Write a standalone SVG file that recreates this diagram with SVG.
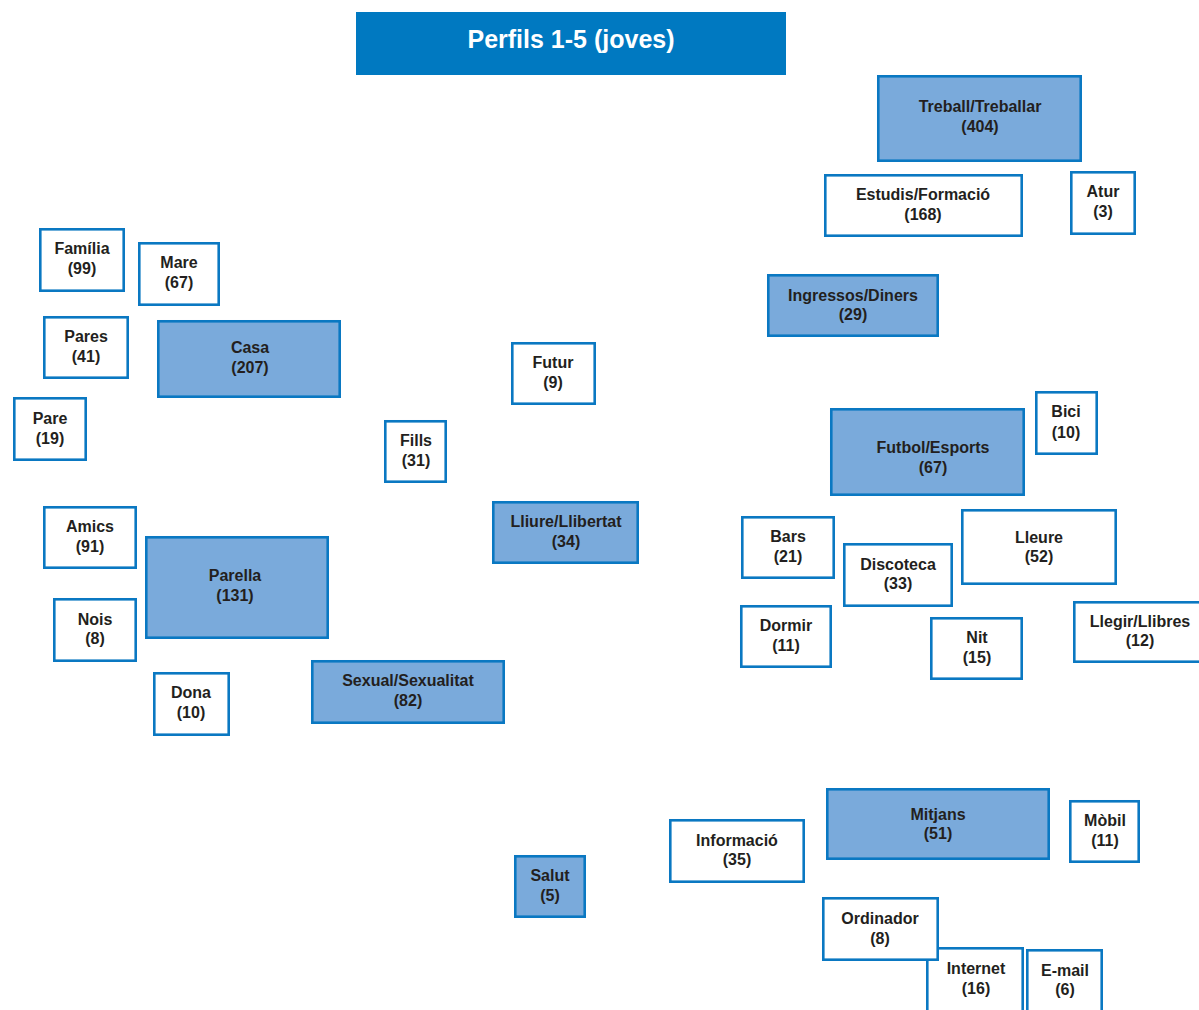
<svg xmlns="http://www.w3.org/2000/svg" width="1199" height="1010" viewBox="0 0 1199 1010">
<style>
.b{fill:#ffffff;stroke:#0a78c2;stroke-width:2.6}
.f{fill:#7aaadb;stroke:#0a78c2;stroke-width:2.6}
text{font-family:"Liberation Sans",Arial,sans-serif;font-weight:bold;font-size:16px;fill:#231f20;text-anchor:middle}
.t{font-size:25px;fill:#ffffff}
</style>
<rect width="1199" height="1010" fill="#ffffff"/>
<g id="title"><rect x="356" y="12" width="430" height="63" fill="#0079c1"/><text class="t" x="571" y="48">Perfils 1-5 (joves)</text></g>
<g id="nodes">
<g id="treball"><rect class="f" x="878.3" y="76.3" width="202.4" height="84.4"/><text x="980" y="112">Treball/Treballar</text><text x="980" y="132">(404)</text></g>
<g id="estudis"><rect class="b" x="825.3" y="175.3" width="196.4" height="60.4"/><text x="923" y="200">Estudis/Formació</text><text x="923" y="220">(168)</text></g>
<g id="atur"><rect class="b" x="1071.3" y="172.3" width="63.4" height="61.4"/><text x="1103" y="197">Atur</text><text x="1103" y="217">(3)</text></g>
<g id="familia"><rect class="b" x="40.3" y="229.3" width="83.4" height="61.4"/><text x="82" y="254">Família</text><text x="82" y="274">(99)</text></g>
<g id="mare"><rect class="b" x="139.3" y="243.3" width="79.4" height="61.4"/><text x="179" y="268">Mare</text><text x="179" y="288">(67)</text></g>
<g id="pares"><rect class="b" x="44.3" y="317.3" width="83.4" height="60.4"/><text x="86" y="342">Pares</text><text x="86" y="362">(41)</text></g>
<g id="casa"><rect class="f" x="158.3" y="321.3" width="181.4" height="75.4"/><text x="250" y="353">Casa</text><text x="250" y="373">(207)</text></g>
<g id="pare"><rect class="b" x="14.3" y="398.3" width="71.4" height="61.4"/><text x="50" y="424">Pare</text><text x="50" y="444">(19)</text></g>
<g id="futur"><rect class="b" x="512.3" y="343.3" width="82.4" height="60.4"/><text x="553" y="368">Futur</text><text x="553" y="388">(9)</text></g>
<g id="fills"><rect class="b" x="385.3" y="421.3" width="60.4" height="60.4"/><text x="416" y="446">Fills</text><text x="416" y="466">(31)</text></g>
<g id="ingressos"><rect class="f" x="768.3" y="275.3" width="169.4" height="60.4"/><text x="853" y="301">Ingressos/Diners</text><text x="853" y="320">(29)</text></g>
<g id="bici"><rect class="b" x="1036.3" y="392.3" width="60.4" height="61.4"/><text x="1066" y="417">Bici</text><text x="1066" y="438">(10)</text></g>
<g id="futbol"><rect class="f" x="831.3" y="409.3" width="192.4" height="85.4"/><text x="933" y="453">Futbol/Esports</text><text x="933" y="473">(67)</text></g>
<g id="lliure"><rect class="f" x="493.3" y="502.3" width="144.4" height="60.4"/><text x="566" y="527">Lliure/Llibertat</text><text x="566" y="547">(34)</text></g>
<g id="amics"><rect class="b" x="44.3" y="507.3" width="91.4" height="60.4"/><text x="90" y="532">Amics</text><text x="90" y="552">(91)</text></g>
<g id="parella"><rect class="f" x="146.3" y="537.3" width="181.4" height="100.4"/><text x="235" y="581">Parella</text><text x="235" y="601">(131)</text></g>
<g id="nois"><rect class="b" x="54.3" y="599.3" width="81.4" height="61.4"/><text x="95" y="625">Nois</text><text x="95" y="644">(8)</text></g>
<g id="dona"><rect class="b" x="154.3" y="673.3" width="74.4" height="61.4"/><text x="191" y="698">Dona</text><text x="191" y="718">(10)</text></g>
<g id="sexual"><rect class="f" x="312.3" y="661.3" width="191.4" height="61.4"/><text x="408" y="686">Sexual/Sexualitat</text><text x="408" y="706">(82)</text></g>
<g id="bars"><rect class="b" x="742.3" y="517.3" width="91.4" height="60.4"/><text x="788" y="542">Bars</text><text x="788" y="562">(21)</text></g>
<g id="discoteca"><rect class="b" x="844.3" y="544.3" width="107.4" height="61.4"/><text x="898" y="570">Discoteca</text><text x="898" y="589">(33)</text></g>
<g id="lleure"><rect class="b" x="962.3" y="510.3" width="153.4" height="73.4"/><text x="1039" y="543">Lleure</text><text x="1039" y="562">(52)</text></g>
<g id="dormir"><rect class="b" x="741.3" y="606.3" width="89.4" height="60.4"/><text x="786" y="631">Dormir</text><text x="786" y="651">(11)</text></g>
<g id="nit"><rect class="b" x="931.3" y="618.3" width="90.4" height="60.4"/><text x="977" y="643">Nit</text><text x="977" y="663">(15)</text></g>
<g id="llegir"><rect class="b" x="1074.3" y="602.3" width="130" height="59.4"/><text x="1140" y="627">Llegir/Llibres</text><text x="1140" y="646">(12)</text></g>
<g id="mitjans"><rect class="f" x="827.3" y="789.3" width="221.4" height="69.4"/><text x="938" y="820">Mitjans</text><text x="938" y="839">(51)</text></g>
<g id="mobil"><rect class="b" x="1070.3" y="801.3" width="68.4" height="60.4"/><text x="1105" y="826">Mòbil</text><text x="1105" y="846">(11)</text></g>
<g id="informacio"><rect class="b" x="670.3" y="820.3" width="133.4" height="61.4"/><text x="737" y="846">Informació</text><text x="737" y="865">(35)</text></g>
<g id="salut"><rect class="f" x="515.3" y="856.3" width="69.4" height="60.4"/><text x="550" y="881">Salut</text><text x="550" y="901">(5)</text></g>
<g id="internet"><rect class="b" x="927.3" y="948.3" width="95.4" height="70"/><text x="976" y="974">Internet</text><text x="976" y="994">(16)</text></g>
<g id="email"><rect class="b" x="1027.3" y="950.3" width="74.4" height="70"/><text x="1065" y="976">E-mail</text><text x="1065" y="995">(6)</text></g>
<g id="ordinador"><rect class="b" x="823.3" y="898.3" width="114.4" height="61.4"/><text x="880" y="924">Ordinador</text><text x="880" y="944">(8)</text></g>
</g>
<g id="connectors"/>
</svg>
